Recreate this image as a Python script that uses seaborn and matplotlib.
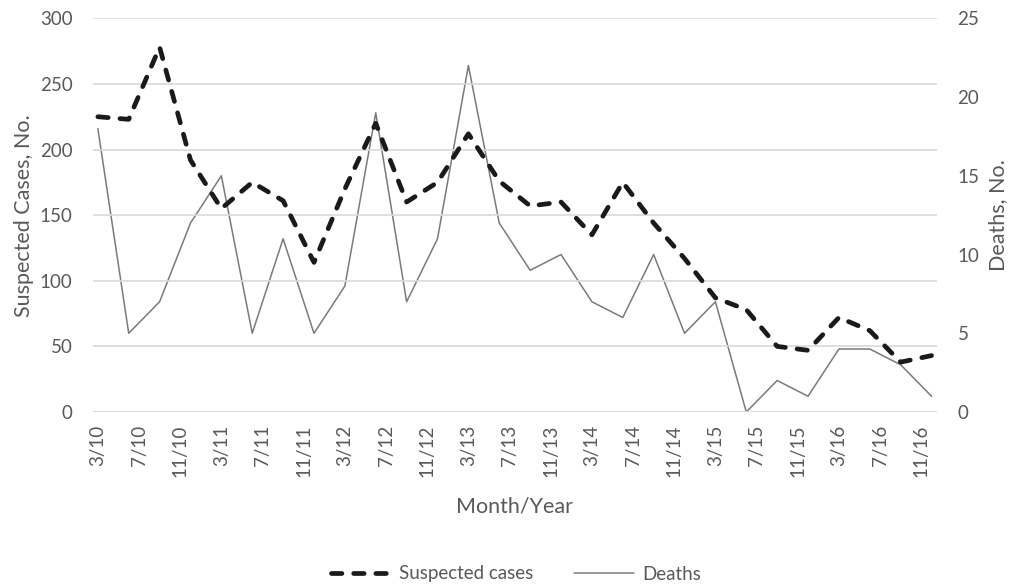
import numpy as np
import pandas as pd
import matplotlib
matplotlib.use("Agg")
import matplotlib.pyplot as plt
from matplotlib.lines import Line2D
import seaborn as sns

# ---- data (quarterly, 3/2010 .. 12/2016) ----
quarters = ['2010-03', '2010-06', '2010-09', '2010-12',
            '2011-03', '2011-06', '2011-09', '2011-12',
            '2012-03', '2012-06', '2012-09', '2012-12',
            '2013-03', '2013-06', '2013-09', '2013-12',
            '2014-03', '2014-06', '2014-09', '2014-12',
            '2015-03', '2015-06', '2015-09', '2015-12',
            '2016-03', '2016-06', '2016-09', '2016-12']
suspected_cases = [225, 223, 278, 192, 155, 175, 161, 114, 170, 220, 160, 175, 212, 176,
                   157, 160, 135, 175, 144, 117, 87, 78, 50, 47, 72, 62, 38, 43]
deaths = [18, 5, 7, 12, 15, 5, 11, 5, 8, 19, 7, 11, 22, 12,
          9, 10, 7, 6, 10, 5, 7, 0, 2, 1, 4, 4, 3, 1]
tick_labels = ['3/10', '7/10', '11/10', '3/11', '7/11', '11/11', '3/12', '7/12', '11/12',
               '3/13', '7/13', '11/13', '3/14', '7/14', '11/14', '3/15', '7/15', '11/15',
               '3/16', '7/16', '11/16']

TXT = '#595959'
GRID = '#d9d9d9'

sns.set_style("white")
plt.rcParams['font.family'] = ['Lato', 'DejaVu Sans']


def month_index(s):
    y, m = s.split('-')
    return (int(y) - 2010) * 12 + int(m) - 3


def label_index(s):
    m, y = s.split('/')
    return (2000 + int(y) - 2010) * 12 + int(m) - 3


df = pd.DataFrame({
    'x': [month_index(q) + 0.5 for q in quarters],
    'cases': suspected_cases,
    'deaths': deaths,
})

fig = plt.figure(figsize=(10.12, 5.86), dpi=100)
ax = fig.add_axes([92.7 / 1012, 1 - 412 / 586, (936.7 - 92.7) / 1012, (412 - 18.3) / 586])
ax2 = ax.twinx()

sns.lineplot(data=df, x='x', y='cases', ax=ax, color='#1a1a1a', linewidth=3.4,
             linestyle=(0, (2.2, 2.5)), dash_capstyle='round', solid_capstyle='round',
             zorder=3, legend=False)
sns.lineplot(data=df, x='x', y='deaths', ax=ax2, color='#7a7a7a', linewidth=1.1,
             zorder=2, legend=False)

ax.set_zorder(ax2.get_zorder() + 1)
ax.patch.set_visible(False)

ax.set_xlim(0, 82)
ax.set_ylim(0, 300)
ax2.set_ylim(0, 25)
ax.set_yticks(np.arange(0, 301, 50))
ax2.set_yticks(np.arange(0, 26, 5))

# x ticks: labels at month centres, marks at month boundaries
tick_pos = [label_index(t) for t in tick_labels]
ax.set_xticks([p + 0.5 for p in tick_pos])
ax.set_xticklabels(tick_labels, rotation=90, color=TXT, fontsize=13.5)
ax.set_xticks(tick_pos, minor=True)
ax.tick_params(axis='x', which='major', length=0, pad=9)
ax.tick_params(axis='x', which='minor', length=4.5, width=1, color=GRID)

ax.tick_params(axis='y', length=0, pad=14.5, labelsize=13.5, labelcolor=TXT)
ax2.tick_params(axis='y', length=0, pad=15, labelsize=13.5, labelcolor=TXT)

ax.grid(axis='y', color=GRID, linewidth=1.2)
ax2.grid(False)
for a in (ax, ax2):
    for s in ['top', 'right', 'left', 'bottom']:
        a.spines[s].set_visible(False)
ax.axhline(0, color=GRID, linewidth=1.2, zorder=1)

ax.set_xlabel('Month/Year', color=TXT, fontsize=15.5, labelpad=14)
ax.set_ylabel('Suspected Cases, No.', color=TXT, fontsize=15.5, labelpad=4)
ax2.set_ylabel('Deaths, No.', color=TXT, fontsize=15.5, labelpad=6)

handles = [
    Line2D([], [], color='#1a1a1a', linewidth=3.4, linestyle=(0, (2.2, 2.5)),
           dash_capstyle='round'),
    Line2D([], [], color='#7a7a7a', linewidth=1.1),
]
fig.legend(handles, ['Suspected cases', 'Deaths'], loc='center', ncol=2,
           bbox_to_anchor=(0.51, 12 / 586), frameon=False, fontsize=13.5,
           labelcolor=TXT, handlelength=3.2, columnspacing=2.2, handletextpad=0.4)

fig.savefig('out.png', dpi=100)
